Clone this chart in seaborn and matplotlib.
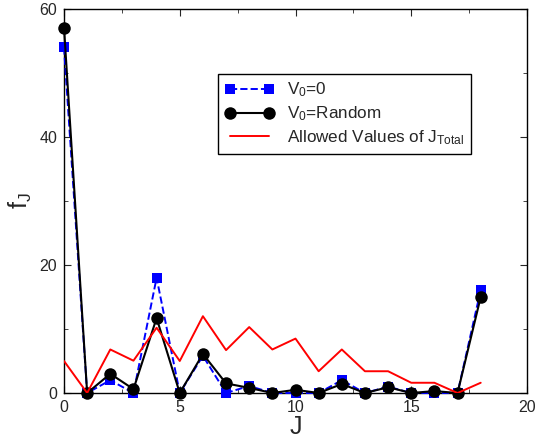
import numpy as np
import pandas as pd
import matplotlib
matplotlib.use('Agg')
import matplotlib.pyplot as plt
import seaborn as sns
from matplotlib.ticker import MultipleLocator

# data
J = list(range(19))
f_v0_zero = [54, 0, 2, 0, 18, 0, 5.8, 0, 1.1, 0, 0, 0, 2, 0, 1, 0, 0, 0, 16.1]
f_v0_random = [57.1, 0, 3.0, 0.6, 11.7, 0, 6.1, 1.5, 0.8, 0, 0.5, 0, 1.4, 0, 0.9, 0, 0.3, 0, 15.0]
allowed_j_total = [5.0, 0, 6.8, 5.05, 10.2, 5.0, 12.0, 6.7, 10.3, 6.8, 8.5, 3.4, 6.8, 3.4, 3.4, 1.6, 1.6, 0, 1.6]

df = pd.DataFrame({'J': J, 'zero': f_v0_zero, 'random': f_v0_random, 'allowed': allowed_j_total})

sns.set_style('ticks')
plt.rcParams['font.family'] = ['Liberation Sans', 'DejaVu Sans']
plt.rcParams['mathtext.fontset'] = 'custom'
plt.rcParams['mathtext.rm'] = 'Liberation Sans'
plt.rcParams['mathtext.it'] = 'Liberation Sans:italic'

fig = plt.figure(figsize=(5.35, 4.4), dpi=100)
ax = fig.add_axes([64/535, 47/440, 463/535, 384/440])

sns.lineplot(data=df, x='J', y='zero', ax=ax, color='#0000ff', marker='s', markersize=6.5,
             markeredgewidth=0, linestyle='--', linewidth=1.4, clip_on=False,
             label=r'V$_\mathregular{0}$=0', zorder=3)
sns.lineplot(data=df, x='J', y='random', ax=ax, color='black', marker='o', markersize=9,
             markeredgewidth=0, linewidth=1.5, clip_on=False,
             label=r'V$_\mathregular{0}$=Random', zorder=4)
sns.lineplot(data=df, x='J', y='allowed', ax=ax, color='#ff0000', linewidth=1.4,
             label=r'Allowed Values of J$_\mathregular{Total}$', zorder=5)

ax.set_xlim(0, 20)
ax.set_ylim(0, 60)
ax.xaxis.set_major_locator(MultipleLocator(5))
ax.xaxis.set_minor_locator(MultipleLocator(2.5))
ax.yaxis.set_major_locator(MultipleLocator(20))
ax.yaxis.set_minor_locator(MultipleLocator(10))
ax.tick_params(which='both', direction='in', top=True, right=True, labelsize=11.5)
ax.tick_params(axis='x', pad=5)
ax.tick_params(axis='y', pad=5)
ax.tick_params(which='major', length=5)
ax.tick_params(which='minor', length=3)
for s in ax.spines.values():
    s.set_visible(True)
    s.set_linewidth(1.0)
    s.set_color('black')

ax.set_xlabel('J', fontsize=18, labelpad=0)
ax.set_ylabel(r'f$_\mathregular{J}$', fontsize=18, labelpad=4)

leg = ax.legend(loc='upper left', bbox_to_anchor=(0.333, 0.831), borderaxespad=0,
                fontsize=12.3, numpoints=2, frameon=True, fancybox=False,
                edgecolor='black', framealpha=1, handlelength=2.9, borderpad=0.4,
                labelspacing=0.3, handletextpad=0.7)
leg.get_frame().set_linewidth(1.0)

fig.savefig('out.png', dpi=100)
